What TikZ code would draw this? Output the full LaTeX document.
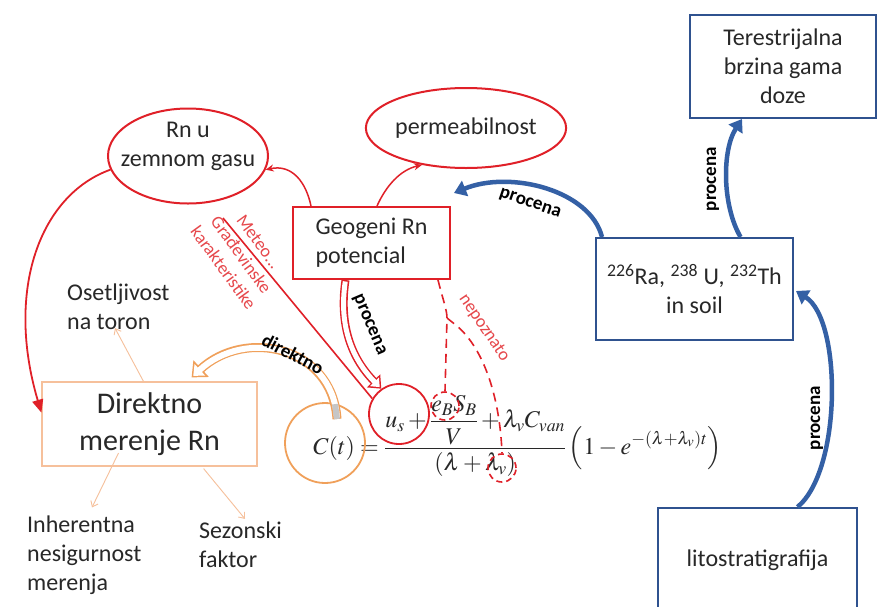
\documentclass[tikz,border=0pt]{standalone}
\usepackage{amsmath}
\usepackage{mathptmx}
\usepackage[no-math]{fontspec}
\setmainfont{Carlito}
\usetikzlibrary{arrows.meta,shapes.geometric,calc}
\definecolor{rd}{RGB}{224,32,40}
\definecolor{rdt}{RGB}{230,72,76}
\definecolor{bl}{RGB}{47,82,143}
\definecolor{bla}{RGB}{52,96,165}
\definecolor{org}{RGB}{240,160,90}
\definecolor{orgl}{RGB}{246,192,155}
\definecolor{txt}{RGB}{40,40,40}
\tikzset{
  lbl/.style={font=\fontsize{24}{29}\selectfont, text=txt, align=center, inner sep=0pt},
  bbox/.style={draw=bl, line width=2pt, lbl},
  rbox/.style={draw=rd, line width=2pt, lbl},
  rell/.style={ellipse, draw=rd, line width=2pt, inner sep=0pt},
  elbl/.style={font=\fontsize{19}{22}\selectfont\bfseries, text=black, inner sep=0pt},
  rlbl/.style={font=\fontsize{18}{22}\selectfont, text=rdt, align=center, inner sep=0pt},
  barr/.style={draw=bla, line width=4.5pt, -{Triangle[length=12pt,width=16pt]}},
  rarr/.style={draw=rd, line width=1.5pt, -{Stealth[length=8pt,width=7pt]}},
  oarr/.style={draw=orgl, line width=0.9pt, -{Straight Barb[length=5pt,width=8pt]}},
  rdash/.style={draw=rd, line width=1.6pt, dash pattern=on 9pt off 6pt},
}
\begin{document}
\begin{tikzpicture}[x=1pt,y=-1pt]
\clip (0,0) rectangle (877,606);
\fill[white] (0,0) rectangle (877,606);

% ---- boxes and ellipses
\node[bbox, minimum width=186pt, minimum height=103pt] (ter) at (783,66.5) {Terestrijalna\\brzina gama\\doze};
\node[bbox, minimum width=197pt, minimum height=102pt] (ra) at (694.5,289) {\textsuperscript{226}Ra, \textsuperscript{238} U, \textsuperscript{232}Th\\in soil};
\node[bbox, minimum width=199pt, minimum height=104pt] (lito) at (757.5,560) {litostratigrafija};
\node[rbox, minimum width=157pt, minimum height=72pt, align=left] (geo) at (371.5,243) {Geogeni Rn\\potencial};
\node[rell, minimum width=160pt, minimum height=95pt] (rn) at (188,156) {};
\node[lbl] (rnt) at ($(rn)+(0,-10)$) {Rn u\\zemnom gasu};
\node[rell, minimum width=197pt, minimum height=80pt, lbl] (perm) at (466,128) {permeabilnost};
\node[draw=orgl, line width=1.2pt, minimum width=215pt, minimum height=84pt, font=\fontsize{30}{37}\selectfont, text=txt, align=center, inner sep=0pt] (dm) at (149.5,424) {Direktno\\merenje Rn};
\node[lbl, align=left, anchor=west] (oset) at (67,307) {Osetljivost\\na toron};
\node[lbl, align=left, anchor=west] (inh) at (27,555) {Inherentna\\nesigurnost\\merenja};
\node[lbl, align=left, anchor=west] (sez) at (199,545) {Sezonski\\faktor};

% ---- formula
\node[anchor=base west, inner sep=0pt, font=\fontsize{24}{29}\selectfont, text=txt] (eq) at (313,454)
  {$\displaystyle C(t)=\frac{u_s+\dfrac{e_BS_B}{V}+\lambda_v C_{van}}{(\lambda+\lambda_v)}\left(1-e^{-(\lambda+\lambda_v)t}\right)$};

% ---- circles
\node[circle, draw=org, line width=1.8pt, minimum size=80pt, inner sep=0pt] (ctc) at (325,443) {};
\node[circle, draw=rd, line width=1.8pt, minimum size=60pt, inner sep=0pt] (us) at (399,414) {};
\node[circle, rdash, dash pattern=on 6pt off 4pt, minimum size=28pt, inner sep=0pt] (ebc) at (445,406) {};
\node[circle, rdash, dash pattern=on 6pt off 4pt, minimum size=28pt, inner sep=0pt] (lvc) at (502,468) {};

% ---- blue arrows
\draw[barr] ($(ra.north west)+(7,0)$) .. controls (590,190) and (510,170) .. ($(geo.north east)+(3,-13)$);
\draw[barr] ($(ra.north)+(46,0)$) .. controls (722,205) and (722,150) .. ($(ter.south)+(-41,0)$);
\draw[barr] ($(lito.north)+(40,0)$) .. controls (842,470) and (842,320) .. ($(ra.east)+(2,2)$);

% ---- red solid arrows
\draw[rarr] ($(geo.north west)+(19,0)$) .. controls (306,182) and (292,164) .. (rn.-10);
\draw[rarr] ($(geo.north west)+(85,0)$) .. controls (386,186) and (400,170) .. (perm.-140);
\draw[draw=rd, line width=1.8pt, -{Triangle[length=13pt,width=11pt]}] (rn.190) .. controls (40,195) and (5,290) .. (dm.174);
\coordinate (met) at (223,218);
\draw[draw=rd, line width=1.6pt] (met) -- (us.150);

% ---- red block arrow (procena)
\path (geo.south) ++(-26,0) coordinate (pb0);
\draw[draw=rd, line width=8pt, -{Triangle[length=11pt,width=18pt]}] (pb0) .. controls (338,330) and (355,362) .. (us.125);
\draw[draw=white, line width=5pt, shorten <=1.5pt, shorten >=2.2pt, -{Triangle[length=7.5pt,width=12pt]}] (pb0) .. controls (338,330) and (355,362) .. (us.125);

% ---- red dashed
\coordinate (jn) at (447,318);
\draw[rdash] ($(geo.south east)+(-13,0)$) .. controls (443,300) and (447,310) .. (jn) -- (ebc.north);
\draw[rdash] (jn) -- ++(10,8) .. controls (485,350) and (500,400) .. (lvc.north);

% ---- orange block arrow (direktno)
\path (ctc.center) ++(12,-24) coordinate (ob0);
\draw[draw=org, line width=9pt, -{Triangle[length=13pt,width=22pt]}] (ob0) .. controls (332,346) and (245,328) .. ($(dm.north east)+(-66,-4)$);
\draw[draw=white, line width=6pt, shorten <=1.5pt, shorten >=2.2pt, -{Triangle[length=9pt,width=15pt]}] (ob0) .. controls (332,346) and (245,328) .. ($(dm.north east)+(-66,-4)$);
\draw[draw=gray!45, line width=6pt] (ob0) -- ($(ctc.north)+(10,2)$);

% ---- thin orange arrows
\draw[oarr] ($(dm.north)+(-6,0)$) -- ($(oset.south west)+(48,-2)$);
\draw[oarr] ($(dm.center)+(-31,29)$) -- ($(inh.north west)+(65,-8)$);
\draw[oarr] ($(dm.south east)+(-54,2)$) -- ($(sez.north west)+(46,-3)$);

% ---- edge labels
\node[elbl, rotate=-19] (l1) at (530,204) {procena};
\node[elbl, rotate=90] (l2) at (713,179) {procena};
\node[elbl, rotate=90] (l3) at (817,418) {procena};
\node[elbl, rotate=-67] (l4) at (369,325) {procena};
\node[elbl, rotate=-28] (l5) at (293,354) {direktno};
\node[rlbl, rotate=-54] (l6) at (241,255) {Meteo...\\Građevinske\\karakteristike};
\node[rlbl, rotate=-56] (l7) at (484,328) {nepoznato};
\end{tikzpicture}
\end{document}
